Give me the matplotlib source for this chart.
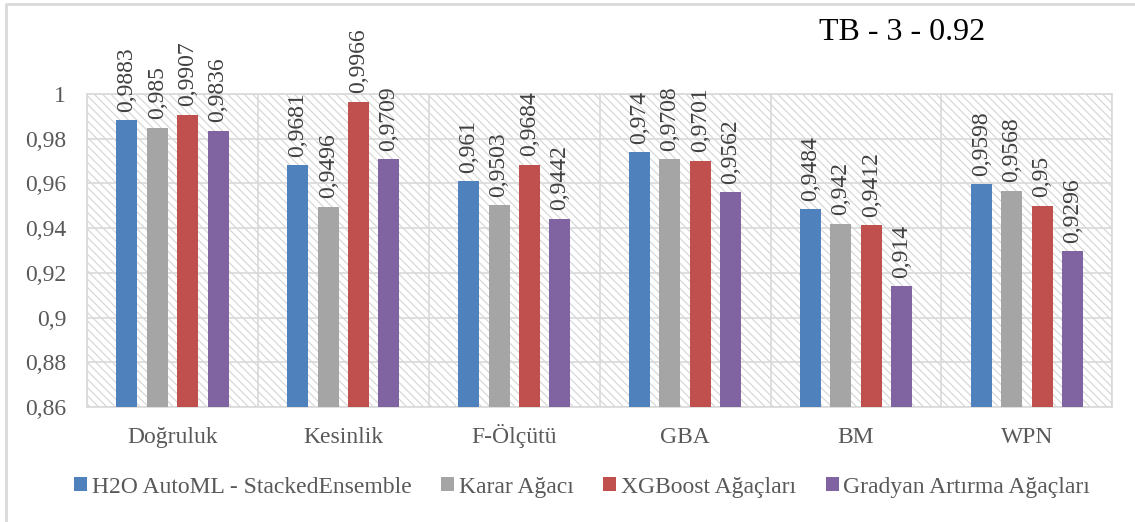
import matplotlib.pyplot as plt
import matplotlib.patches as mpatches
import numpy as np

plt.rcParams['font.family'] = ['Liberation Serif', 'DejaVu Serif']
plt.rcParams['hatch.linewidth'] = 0.8

categories = ['Doğruluk', 'Kesinlik', 'F-Ölçütü', 'GBA', 'BM', 'WPN']
series_names = ['H2O AutoML - StackedEnsemble', 'Karar Ağacı',
                'XGBoost Ağaçları', 'Gradyan Artırma Ağaçları']
h2o = [0.9883, 0.9681, 0.961, 0.974, 0.9484, 0.9598]
karar = [0.985, 0.9496, 0.9503, 0.9708, 0.942, 0.9568]
xgb = [0.9907, 0.9966, 0.9684, 0.9701, 0.9412, 0.95]
gradyan = [0.9836, 0.9709, 0.9442, 0.9562, 0.914, 0.9296]
colors = ['#4F81BD', '#A5A5A5', '#C0504D', '#8064A2']
title = 'TB - 3 - 0.92'

fig = plt.figure(figsize=(11.35, 5.22), dpi=100)
ax = fig.add_axes([0.0767, 0.2203, 0.9033, 0.5997])

# outer frame of the chart (only top and left edges are visible)
fig.lines.append(plt.Line2D([0.0053, 0.0053, 1.0], [0.0, 0.9925, 0.9925], transform=fig.transFigure,
                            color='#D9D9D9', linewidth=2))

# hatched background
ax.add_patch(mpatches.Rectangle((0, 0), 1, 1, transform=ax.transAxes, facecolor='white',
                                edgecolor='#D4D4D4', hatch='\\\\\\\\', linewidth=0, zorder=0))

x = np.arange(len(categories))
width = 0.123
step = 0.178
all_vals = [h2o, karar, xgb, gradyan]
for i, vals in enumerate(all_vals):
    pos = x + (i - 1.5) * step
    ax.bar(pos, vals, width, color=colors[i], label=series_names[i], zorder=3)
    for px, v in zip(pos, vals):
        ax.annotate(str(v).replace('.', ','), (px, v), xytext=(0, 6), textcoords='offset points',
                    rotation=90, ha='center', va='bottom', fontsize=17, color='#404040',
                    annotation_clip=False)

ax.set_ylim(0.86, 1.0)
ax.set_xlim(-0.5, len(categories) - 0.5)
yt = np.arange(0.86, 1.0001, 0.02)
ax.set_yticks(yt)
ax.set_yticklabels([('%g' % round(t, 2)).replace('.', ',') for t in yt])
ax.set_xticks(x)
ax.set_xticklabels(categories, va='baseline')
ax.set_xticks(np.arange(-0.5, len(categories), 1), minor=True)
ax.tick_params(axis='both', which='both', length=0, labelsize=17, colors='#595959')
ax.tick_params(axis='y', pad=15)
ax.tick_params(axis='x', pad=26)
ax.grid(axis='y', color='#D9D9D9', linewidth=1.2, zorder=1)
ax.grid(axis='x', which='minor', color='#D9D9D9', linewidth=1.2, zorder=1)
ax.set_axisbelow(True)
for s in ax.spines.values():
    s.set_color('#D9D9D9')
    s.set_linewidth(1.2)

fig.text(0.795, 0.938, title, fontsize=23, color='black', ha='center', va='center')

leg = ax.legend(loc='center', bbox_to_anchor=(0.483, -0.256), ncol=4, frameon=False,
                fontsize=17, handlelength=0.55, handleheight=0.55, handletextpad=0.2,
                columnspacing=1.25, labelcolor='#595959')

fig.savefig('out.png', dpi=100)
